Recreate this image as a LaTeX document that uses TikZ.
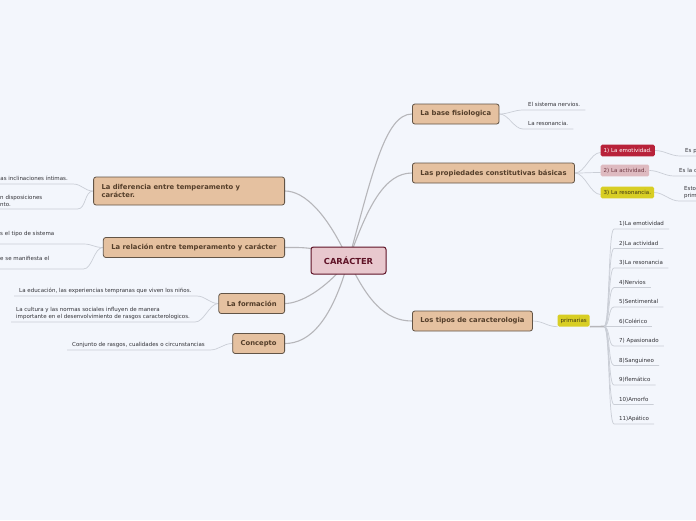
\documentclass[tikz,border=0pt]{standalone}
\usepackage{fontspec}
\setmainfont{DejaVu Sans}
\usetikzlibrary{backgrounds}
\definecolor{bgcol}{RGB}{243,246,252}
\definecolor{topicfill}{RGB}{229,193,160}
\definecolor{topicline}{RGB}{98,84,70}
\definecolor{topictext}{RGB}{84,62,42}
\definecolor{rootfill}{RGB}{232,200,206}
\definecolor{rootline}{RGB}{94,18,38}
\definecolor{redtag}{RGB}{184,34,58}
\definecolor{pinktag}{RGB}{222,186,192}
\definecolor{pinktext}{RGB}{110,56,66}
\definecolor{yellowtag}{RGB}{216,206,36}
\definecolor{tagtext}{RGB}{62,54,20}
\definecolor{wirecol}{RGB}{182,182,186}
\definecolor{leafcol}{RGB}{202,206,214}
\definecolor{leaftext}{RGB}{50,50,55}

\begin{document}
\begin{tikzpicture}[x=1pt,y=-1pt,
  rootbox/.style={draw=rootline, fill=rootfill, line width=1pt, rounded corners=2.5pt, text=rootline, font=\bfseries\fontsize{8.3}{10}\selectfont, minimum width=75pt, minimum height=27pt},
  topicbox/.style={draw=topicline, fill=topicfill, line width=0.8pt, rounded corners=2.5pt, text=topictext, font=\bfseries\fontsize{6.8}{8.6}\selectfont, inner xsep=8pt, minimum height=20pt},
  tagbox/.style={rounded corners=1.5pt, font=\fontsize{5.5}{6.8}\selectfont, inner xsep=3pt, minimum height=11pt, anchor=west},
  leafnode/.style={text=leaftext, font=\fontsize{5.5}{6.8}\selectfont, inner xsep=5pt, inner ysep=2pt},
  oneline/.style={text height=4.2pt, text depth=1.3pt},
  mainwire/.style={draw=wirecol, line width=1.1pt},
  leafwire/.style={draw=leafcol, line width=0.7pt}]

		\useasboundingbox (0,0) rectangle (696,520);

		\node[rootbox] (car) at (348.5,260.5) {CARÁCTER};
		\node[topicbox, anchor=west] (base) at (412,114) {La base fisiologica};
		\node[topicbox, anchor=west] (prop) at (412,173) {Las propiedades constitutivas básicas};
		\node[topicbox, anchor=west] (tipos) at (412,321) {Los tipos de caracterologia};
		\node[topicbox, anchor=east, align=left, text width=175pt, minimum height=28pt] (dif) at (285,191) {La diferencia entre temperamento y\\carácter.};
		\node[topicbox, anchor=east] (rel) at (285,247.5) {La relación entre temperamento y carácter};
		\node[topicbox, anchor=east] (form) at (285,303.5) {La formación};
		\node[topicbox, anchor=east] (conc) at (285,343.5) {Concepto};

		\node[tagbox, fill=redtag, text=white] (emo) at (600.5,150.5) {1) La emotividad.};
		\node[tagbox, fill=pinktag, text=pinktext] (act) at (600.5,170.5) {2) La actividad.};
		\node[tagbox, fill=yellowtag, text=tagtext] (res) at (600.5,192.5) {3) La resonancia.};
		\node[tagbox, fill=yellowtag, text=tagtext] (prim) at (557.5,320.5) {primarias};
		\coordinate (fan) at (604,326.5);

		\node[leafnode, oneline, anchor=south west] (b1) at (523,110) {El sistema nervios.};
		\node[leafnode, oneline, anchor=south west] (b2) at (523,129) {La resonancia.};
		\node[leafnode, oneline, text width=22pt, anchor=south west] (emo1) at (680,156) {Es p};
		\node[leafnode, oneline, text width=22pt, anchor=south west] (act1) at (674,176) {Es la c};
		\node[leafnode, align=left, text width=22pt, anchor=south west] (res1) at (679,201) {Esto\\prim};

		\node[leafnode, oneline, anchor=south west] (p1) at (614,229) {1)La emotividad};
		\node[leafnode, oneline, anchor=south west] (p2) at (614,248.5) {2)La actividad};
		\node[leafnode, oneline, anchor=south west] (p3) at (614,268) {3)La resonancia};
		\node[leafnode, oneline, anchor=south west] (p4) at (614,287.5) {4)Nervios};
		\node[leafnode, oneline, anchor=south west] (p5) at (614,307) {5)Sentimental};
		\node[leafnode, oneline, anchor=south west] (p6) at (614,326.5) {6)Colérico};
		\node[leafnode, oneline, anchor=south west] (p7) at (614,346) {7) Apasionado};
		\node[leafnode, oneline, anchor=south west] (p8) at (614,365.5) {8)Sanguineo};
		\node[leafnode, oneline, anchor=south west] (p9) at (614,385) {9)flemático};
		\node[leafnode, oneline, anchor=south west] (p10) at (614,404.5) {10)Amorfo};
		\node[leafnode, oneline, anchor=south west] (p11) at (614,424) {11)Apático};

		\node[leafnode, oneline, anchor=south east] (d1) at (73,184) {as inclinaciones íntimas.};
		\node[leafnode, align=left, text width=72pt, anchor=south west] (d2) at (-5,209) {n disposiciones\\nto.};
		\node[leafnode, align=left, text width=78pt, anchor=south west] (r1) at (-5,244) {s el tipo de sistema\\\mbox{}};
		\node[leafnode, align=left, text width=78pt, anchor=south west] (r2) at (-5,269) {e se manifiesta el\\\mbox{}};
		\node[leafnode, oneline, anchor=south west] (f1) at (14,296) {La educación, las experiencias tempranas que viven los niños.};
		\node[leafnode, align=left, anchor=south west] (f2) at (11,322) {La cultura y las normas sociales influyen de manera\\importante en el desenvolvimiento de rasgos caracterologicos.};
		\node[leafnode, oneline, anchor=south west] (c1) at (67,350) {Conjunto de rasgos, cualidades o circunstancias};

		\begin{scope}[on background layer]
		\fill[bgcol] (0,0) rectangle (696,520);

		\draw[mainwire] (car.center) .. controls (372,175) and (385,114) .. (base.west);
		\draw[mainwire] (car.center) .. controls (368,205) and (385,173) .. (prop.west);
		\draw[mainwire] (car.center) .. controls (367,300) and (385,321) .. (tipos.west);
		\draw[mainwire] (car.center) .. controls (328,215) and (305,191) .. (dif.east);
		\draw[mainwire] (car.center) .. controls (320,246) and (300,247.5) .. (rel.east);
		\draw[mainwire] (car.center) .. controls (325,290) and (300,303.5) .. (form.east);
		\draw[mainwire] (car.center) .. controls (332,320) and (310,343.5) .. (conc.east);

		\draw[leafwire] (base.east) .. controls +(9,0) and +(-9,0) .. (b1.south west) -- (b1.south east);
		\draw[leafwire] (base.east) .. controls +(9,0) and +(-9,0) .. (b2.south west) -- (b2.south east);
		\draw[leafwire] (prop.east) .. controls +(10,0) and +(-10,0) .. ([yshift=-2pt]emo.west);
		\draw[leafwire] (prop.east) .. controls +(10,0) and +(-10,0) .. ([yshift=-2pt]act.west);
		\draw[leafwire] (prop.east) .. controls +(10,0) and +(-10,0) .. ([yshift=-2pt]res.west);
		\draw[leafwire] (emo.east) .. controls +(9,0) and +(-9,0) .. (emo1.south west) -- (emo1.south east);
		\draw[leafwire] (act.east) .. controls +(9,0) and +(-9,0) .. (act1.south west) -- (act1.south east);
		\draw[leafwire] (res.east) .. controls +(9,0) and +(-9,0) .. (res1.south west) -- (res1.south east);

		\draw[leafwire] (tipos.east) .. controls +(10,0) and +(-10,0) .. (prim.south west);
		\draw[draw=wirecol, line width=1.6pt] (prim.south east) -- (fan);
		\draw[leafwire] (fan) .. controls +(6,0) and +(-6,0) .. (p1.south west) -- (p1.south east);
		\draw[leafwire] (fan) .. controls +(6,0) and +(-6,0) .. (p2.south west) -- (p2.south east);
		\draw[leafwire] (fan) .. controls +(6,0) and +(-6,0) .. (p3.south west) -- (p3.south east);
		\draw[leafwire] (fan) .. controls +(6,0) and +(-6,0) .. (p4.south west) -- (p4.south east);
		\draw[leafwire] (fan) .. controls +(6,0) and +(-6,0) .. (p5.south west) -- (p5.south east);
		\draw[leafwire] (fan) .. controls +(6,0) and +(-6,0) .. (p6.south west) -- (p6.south east);
		\draw[leafwire] (fan) .. controls +(6,0) and +(-6,0) .. (p7.south west) -- (p7.south east);
		\draw[leafwire] (fan) .. controls +(6,0) and +(-6,0) .. (p8.south west) -- (p8.south east);
		\draw[leafwire] (fan) .. controls +(6,0) and +(-6,0) .. (p9.south west) -- (p9.south east);
		\draw[leafwire] (fan) .. controls +(6,0) and +(-6,0) .. (p10.south west) -- (p10.south east);
		\draw[leafwire] (fan) .. controls +(6,0) and +(-6,0) .. (p11.south west) -- (p11.south east);

		\draw[leafwire] (dif.west) .. controls +(-9,0) and +(9,0) .. (d1.south east) -- (d1.south west);
		\draw[leafwire] (dif.west) .. controls +(-9,0) and +(9,0) .. (d2.south east) -- (d2.south west);
		\draw[leafwire] (rel.west) .. controls +(-9,0) and +(9,0) .. (r1.south east) -- (r1.south west);
		\draw[leafwire] (rel.west) .. controls +(-9,0) and +(9,0) .. (r2.south east) -- (r2.south west);
		\draw[leafwire] (form.west) .. controls +(-9,0) and +(9,0) .. (f1.south east) -- (f1.south west);
		\draw[leafwire] (form.west) .. controls +(-9,0) and +(9,0) .. (f2.south east) -- (f2.south west);
		\draw[leafwire] (conc.west) .. controls +(-9,0) and +(9,0) .. (c1.south east) -- (c1.south west);
		\end{scope}
	\end{tikzpicture}
\end{document}
